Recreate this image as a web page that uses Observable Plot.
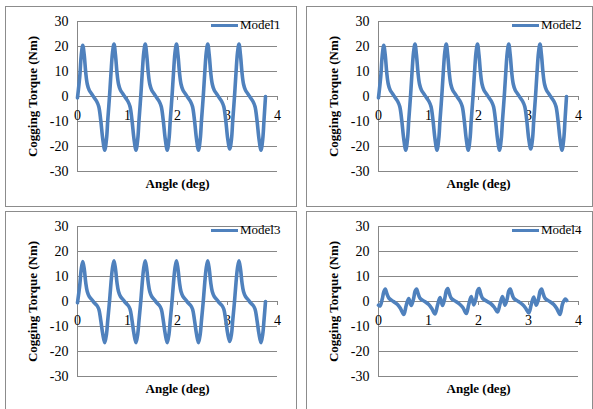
<!DOCTYPE html>
<html><head><meta charset="utf-8">
<script src="https://cdn.jsdelivr.net/npm/d3@7"></script>
<script src="https://cdn.jsdelivr.net/npm/@observablehq/plot@0.6"></script>
<style>
body{margin:0;background:#fff;}
#wrap{position:relative;width:593px;height:409px;overflow:hidden;background:#fff;font-family:"Liberation Serif","Times New Roman",serif;}
.panel{position:absolute;box-sizing:border-box;border:1px solid #8c8c8c;background:#fff;overflow:hidden;}
.panel svg{position:absolute;left:0;top:0;}
.legend{position:absolute;display:flex;align-items:center;font-size:13px;line-height:16px;color:#000;white-space:nowrap;}
.legend .sw{width:27px;height:3px;background:#4F81BD;margin-right:2px;}
</style></head><body><div id="wrap"></div>
<script>
// Shared angle samples (deg) for Model1..Model3
const angle123 = [
  0.000, 0.045, 0.075, 0.105, 0.135, 0.165, 0.195, 0.235, 0.285, 0.335, 0.385, 0.425, 0.465, 0.505, 0.545, 0.580, 0.605,
  0.640, 0.670, 0.700, 0.730, 0.760, 0.790, 0.820, 0.860, 0.910, 0.960, 1.010, 1.050, 1.090, 1.130, 1.170, 1.205, 1.230,
  1.265, 1.295, 1.325, 1.355, 1.385, 1.415, 1.445, 1.485, 1.535, 1.585, 1.635, 1.675, 1.715, 1.755, 1.795, 1.830, 1.855,
  1.890, 1.920, 1.950, 1.980, 2.010, 2.040, 2.070, 2.110, 2.160, 2.210, 2.260, 2.300, 2.340, 2.380, 2.420, 2.455, 2.480,
  2.515, 2.545, 2.575, 2.605, 2.635, 2.665, 2.695, 2.735, 2.785, 2.835, 2.885, 2.925, 2.965, 3.005, 3.045, 3.080, 3.105,
  3.140, 3.170, 3.200, 3.230, 3.260, 3.290, 3.320, 3.360, 3.410, 3.460, 3.510, 3.550, 3.590, 3.630, 3.670, 3.705, 3.730, 3.760
];
const model1 = [
  -0.5, 8, 16.5, 20.5, 16.5, 9.5, 5, 2.5, 1, -0.5, -2, -4, -9.5, -17, -21.5, -17, -9.5,
  0, 9.5, 17.5, 21, 16.5, 9.5, 5, 2.5, 1, -0.5, -2, -4, -9.5, -17, -21.5, -17, -9.5,
  0, 9.5, 17.5, 21, 16.5, 9.5, 5, 2.5, 1, -0.5, -2, -4, -9.5, -17, -21.5, -17, -9.5,
  0, 9.5, 17.5, 21, 16.5, 9.5, 5, 2.5, 1, -0.5, -2, -4, -9.5, -17, -21.5, -17, -9.5,
  0, 9.5, 17.5, 21, 16.5, 9.5, 5, 2.5, 1, -0.5, -2, -4, -9.5, -17, -21, -17, -9.5,
  0, 9.5, 17.5, 21, 16.5, 9.5, 5, 2.5, 1, -0.5, -2, -4, -9.5, -17, -21.5, -17, -9.5, 0
];
const model2 = [
  -0.5, 8, 16.5, 20.5, 16.5, 9.5, 5, 2.5, 1, -0.5, -2, -4, -9.5, -17, -21.5, -17, -9.5,
  0, 9.5, 17.5, 21, 16.5, 9.5, 5, 2.5, 1, -0.5, -2, -4, -9.5, -17, -21.5, -17, -9.5,
  0, 9.5, 17.5, 21, 16.5, 9.5, 5, 2.5, 1, -0.5, -2, -4, -9.5, -17, -21.5, -17, -9.5,
  0, 9.5, 17.5, 21, 16.5, 9.5, 5, 2.5, 1, -0.5, -2, -4, -9.5, -17, -21.5, -17, -9.5,
  0, 9.5, 17.5, 21, 16.5, 9.5, 5, 2.5, 1, -0.5, -2, -4, -9.5, -17, -21, -17, -9.5,
  0, 9.5, 17.5, 21, 16.5, 9.5, 5, 2.5, 1, -0.5, -2, -4, -9.5, -17, -21.5, -17, -9.5, 0
];
const model3 = [
  -0.5, 6.5, 13, 16, 13, 7.5, 4, 2, 0.8, -0.5, -1.5, -3, -7.5, -13, -16.5, -13, -7.5,
  0, 7.5, 13.5, 16.3, 13, 7.5, 4, 2, 0.8, -0.5, -1.5, -3, -7.5, -13, -16.5, -13, -7.5,
  0, 7.5, 13.5, 16.3, 13, 7.5, 4, 2, 0.8, -0.5, -1.5, -3, -7.5, -13, -16.5, -13, -7.5,
  0, 7.5, 13.5, 16.3, 13, 7.5, 4, 2, 0.8, -0.5, -1.5, -3, -7.5, -13, -16.5, -13, -7.5,
  0, 7.5, 13.5, 16.3, 13, 7.5, 4, 2, 0.8, -0.5, -1.5, -3, -7.5, -13, -16, -13, -7.5,
  0, 7.5, 13.5, 16.3, 13, 7.5, 4, 2, 0.8, -0.5, -1.5, -3, -7.5, -13, -16.5, -13, -7.5, 0
];
// Model4 has its own angle samples
const angle4 = [
  0.000, 0.030, 0.075, 0.105, 0.135, 0.170, 0.210, 0.300, 0.380, 0.440, 0.505, 0.555, 0.605,
  0.655, 0.700, 0.730, 0.760, 0.795, 0.835, 0.925, 1.005, 1.065, 1.130, 1.180, 1.230,
  1.280, 1.325, 1.355, 1.385, 1.420, 1.460, 1.550, 1.630, 1.690, 1.755, 1.805, 1.855,
  1.905, 1.950, 1.980, 2.010, 2.045, 2.085, 2.175, 2.255, 2.315, 2.380, 2.430, 2.480,
  2.530, 2.575, 2.605, 2.635, 2.670, 2.710, 2.800, 2.880, 2.940, 3.005, 3.055, 3.105,
  3.155, 3.200, 3.230, 3.260, 3.295, 3.335, 3.425, 3.505, 3.565, 3.630, 3.680, 3.735, 3.765
];
const model4 = [
  -1.5, -1.8, 1, 3.8, 5, 3, 1.3, 0, -1.2, -2.8, -5.2, -1.5, 1.2,
  -1.6, 1, 4, 5, 3, 1.2, 0, -1.2, -2.8, -5, -1.5, 1.6,
  -1.6, 1.2, 4.2, 5.2, 3, 1.2, 0, -1.2, -2.5, -4.8, -1.2, 2,
  -1.4, 1.2, 4.3, 5.2, 3, 1.2, 0, -1, -2.3, -4.2, -1, 2,
  -1.5, 1.2, 4.2, 5, 3, 1.2, 0, -1.2, -2.6, -4.6, -1.2, 1.8,
  -1.5, 1, 4, 5, 3, 1.2, 0, -1.2, -2.8, -5.2, -1, 1, 0.4
];
const yTicks = [-30, -20, -10, 0, 10, 20, 30];
const xTicks = [0, 1, 2, 3, 4];
const seriesNames = ["Model1", "Model2", "Model3", "Model4"];
const yTitle = "Cogging Torque (Nm)";
const xTitle = "Angle (deg)";

const panels = [
  {name: seriesNames[0], xs: angle123, ys: model1, left: 5, top: 6, w: 292, h: 201},
  {name: seriesNames[1], xs: angle123, ys: model2, left: 306, top: 6, w: 287, h: 201},
  {name: seriesNames[2], xs: angle123, ys: model3, left: 5, top: 211, w: 292, h: 201},
  {name: seriesNames[3], xs: angle4, ys: model4, left: 306, top: 211, w: 287, h: 201}
];

const wrap = document.getElementById("wrap");
const grid = "#878787";
const ff = "Liberation Serif";
for (const p of panels) {
  const div = document.createElement("div");
  div.className = "panel";
  Object.assign(div.style, {left: p.left + "px", top: p.top + "px", width: p.w + "px", height: p.h + "px"});
  const w = p.w - 2, h = p.h - 2;
  const data = p.xs.map((x, i) => ({x, y: p.ys[i]}));
  const svg = Plot.plot({
    width: w, height: h,
    marginLeft: 71, marginRight: w - 71 - 200, marginTop: 14, marginBottom: h - 14 - 150,
    x: {domain: [0, 4], axis: null},
    y: {domain: [-30, 30]},
    style: {fontFamily: ff, fontSize: "14px", color: "#000", background: "transparent", overflow: "visible"},
    marks: [
      Plot.ruleY(yTicks, {stroke: grid, strokeWidth: 1}),
      Plot.ruleX([0], {stroke: grid, strokeWidth: 1}),
      Plot.ruleX(xTicks, {x: d => d, y1: 0, y2: -1.6, stroke: grid}),
      Plot.axisY(yTicks, {tickSize: 0, tickPadding: 9, tickFormat: d => String(d), label: null, fontSize: 14, fontFamily: ff, fill: "#000"}),
      Plot.text(xTicks, {x: d => d, y: 0, dy: 19, text: d => String(d), fontSize: 14, fontFamily: ff, fill: "#000"}),
      Plot.line(data, {x: "x", y: "y", stroke: "#4F81BD", strokeWidth: 3.6, curve: "catmull-rom"}),
      Plot.text([yTitle], {frameAnchor: "left", rotate: -90, dx: -45, textAnchor: "middle", lineAnchor: "middle", fontWeight: "bold", fontSize: 13, fontFamily: ff, fill: "#000"}),
      Plot.text([xTitle], {frameAnchor: "bottom", dy: 12, textAnchor: "middle", lineAnchor: "middle", fontWeight: "bold", fontSize: 13, fontFamily: ff, fill: "#000"})
    ]
  });
  div.appendChild(svg);
  const lg = document.createElement("div");
  lg.className = "legend";
  Object.assign(lg.style, {left: "205px", top: "10px"});
  const sw = document.createElement("span"); sw.className = "sw";
  const tx = document.createElement("span"); tx.textContent = p.name;
  lg.appendChild(sw); lg.appendChild(tx);
  div.appendChild(lg);
  wrap.appendChild(div);
}
</script>
</body></html>
